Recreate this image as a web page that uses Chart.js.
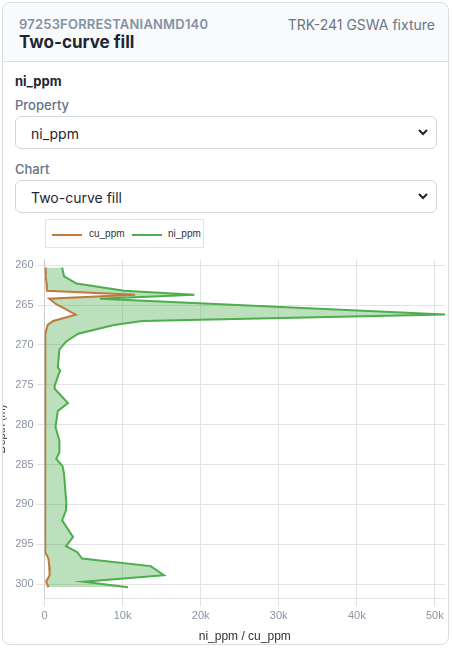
<!DOCTYPE html>
<html><head><meta charset="utf-8">
<script src="https://cdn.jsdelivr.net/npm/chart.js@4"></script>
<style>
body{margin:0;font-family:Inter,"Noto Sans",sans-serif;background:#fff;}
.card{position:absolute;left:2px;top:2px;width:445px;height:641px;border:1px solid #d8dde3;border-radius:8px;overflow:hidden;}
.hdr{height:58px;background:#f8fafc;border-bottom:1px solid #dde2e8;position:relative;}
.well{position:absolute;left:16px;top:13px;font-size:13px;font-weight:600;color:#8391a3;letter-spacing:.2px;}
.title{position:absolute;left:16px;top:29px;font-size:17px;font-weight:700;color:#1e2633;}
.fix{position:absolute;right:13px;top:13px;font-size:14px;color:#6b7686;}
.prop{position:absolute;left:12px;top:70px;font-size:13px;font-weight:700;color:#1e2633;}
.lbl{position:absolute;left:12px;font-size:13px;font-weight:500;color:#647387;}
.sel{position:absolute;left:12px;width:422px;height:33px;border:1px solid #cfd6de;border-radius:6px;font-size:14px;color:#1e2633;box-sizing:border-box;padding:8px 0 0 15px;}
.sel svg{position:absolute;right:8px;top:12px;}
.leg{position:absolute;left:42px;top:216px;width:159px;height:29px;border:1px solid #dfe5ea;box-sizing:border-box;font-size:10px;color:#333;font-family:"Liberation Sans",Arial,sans-serif;}
.leg span{position:absolute;top:8px;}
.leg i{position:absolute;top:14px;width:30px;height:2px;}
#wrap{position:absolute;left:-12px;top:247px;width:460px;height:398px;}
</style></head><body>
<div class="card">
 <div class="hdr"><div class="well">97253FORRESTANIANMD140</div><div class="title">Two-curve fill</div><div class="fix">TRK-241 GSWA fixture</div></div>
 <div class="prop">ni_ppm</div>
 <div class="lbl" style="top:94px">Property</div>
 <div class="sel" style="top:113px">ni_ppm<svg width="10" height="8"><path d="M1 1l4 4 4-4" stroke="#222" stroke-width="2" fill="none"/></svg></div>
 <div class="lbl" style="top:158px">Chart</div>
 <div class="sel" style="top:177px">Two-curve fill<svg width="10" height="8"><path d="M1 1l4 4 4-4" stroke="#222" stroke-width="2" fill="none"/></svg></div>
 <div class="leg"><i style="left:6px;background:#bf7a3c"></i><span style="left:43px">cu_ppm</span><i style="left:86px;background:#4cae4c"></i><span style="left:122px">ni_ppm</span></div>
 <div id="wrap"><canvas id="c"></canvas></div>
</div>
<script>
const depths = [260.3,261.4,262.3,263.2,263.7,264.2,264.9,266.2,267.0,267.5,268.6,269.6,270.6,272.8,273.25,273.7,275.1,275.5,277.3,278.3,280.3,282.0,283.5,284.3,285.2,286.2,290.0,290.75,292.0,294.1,295.25,296.0,296.8,297.75,298.9,299.7,300.4];
const niPpm = [2250,2500,4100,10200,19200,7100,22600,51300,12500,8900,4300,2750,1900,1700,2000,1800,1300,1300,3000,1700,1400,1900,1900,1500,2300,2500,2800,2750,2250,3650,2750,4200,4800,13600,15300,5000,10700];
const cuPpm = [100,150,250,300,11600,600,1500,4000,1100,400,100,100,90,90,90,80,80,80,80,80,80,80,80,80,80,80,80,80,80,90,100,100,500,600,650,200,500];
const depthTicks = [260,265,270,275,280,285,290,295,300];
const valueTicks = [0,10000,20000,30000,40000,50000];

const pts = v => v.map((x, i) => ({x: x, y: depths[i]}));
new Chart(document.getElementById('c'), {
  type: 'line',
  data: {
    datasets: [
      {label: 'cu_ppm', data: pts(cuPpm), borderColor: '#bf7a3c', borderWidth: 2, pointRadius: 0, fill: false},
      {label: 'ni_ppm', data: pts(niPpm), borderColor: '#4cae4c', borderWidth: 2, pointRadius: 0,
       backgroundColor: 'rgba(76,174,76,0.38)', fill: '-1'}
    ]
  },
  options: {
    indexAxis: 'y',
    responsive: true, maintainAspectRatio: false, animation: false,
    layout: {padding: {right: 6, top: 4}},
    plugins: {legend: {display: false}, tooltip: {enabled: false}},
    scales: {
      x: {type: 'linear', min: 0, max: 51300,
        afterBuildTicks: s => { s.ticks = valueTicks.map(v => ({value: v})); },
        ticks: {color: '#8a93a0', font: {size: 11}, callback: v => v === 0 ? '0' : (v / 1000) + 'k'},
        grid: {color: '#e3e3e3'},
        title: {display: true, text: 'ni_ppm / cu_ppm', color: '#333', font: {size: 12}}},
      y: {type: 'linear', reverse: true, min: 259.3, max: 301.8,
        afterBuildTicks: s => { s.ticks = depthTicks.map(v => ({value: v})); },
        ticks: {color: '#8a93a0', font: {size: 11}},
        grid: {color: '#e3e3e3'},
        title: {display: true, text: 'Depth (m)', color: '#333', font: {size: 11}}}
    }
  }
});
</script>
</body></html>
